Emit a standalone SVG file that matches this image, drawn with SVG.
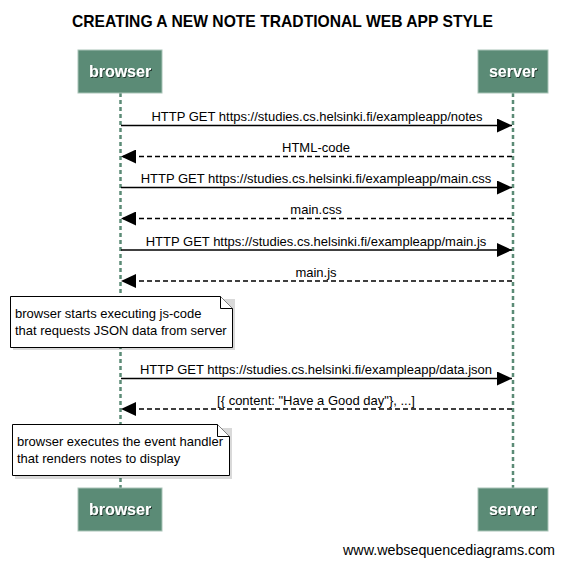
<svg xmlns="http://www.w3.org/2000/svg" width="564" height="565" viewBox="0 0 564 565">
<style>
text{font-family:"Liberation Sans",Arial,sans-serif;fill:#000}
.title{font-size:17px;font-weight:bold}
.msg{font-size:13px;text-anchor:middle}
.note{font-size:13px}
.actor rect{fill:#5b8b76;stroke:#a9c4b7;stroke-width:1}
.actor text{font-size:16px;font-weight:bold;fill:#fff;text-anchor:middle}
.life{stroke:#5b8b76;stroke-width:2.5;stroke-dasharray:4,3}
.req{stroke:#000;stroke-width:1.5;fill:none}
.res{stroke:#000;stroke-width:1.5;fill:none;stroke-dasharray:5,3}
.notebox{fill:#fff;stroke:#000;stroke-width:1}
.shadow{fill:#000;opacity:0.15}
</style>
<defs>
<marker id="ah" viewBox="0 0 15 14" refX="15" refY="7" markerWidth="15" markerHeight="14" markerUnits="userSpaceOnUse" orient="auto">
<path d="M0,0 L15,7 L0,14 Z" fill="#000"/>
</marker>
<filter id="ts" x="-10%" y="-10%" width="130%" height="140%">
<feDropShadow dx="1" dy="1" stdDeviation="0.6" flood-color="#000" flood-opacity="0.6"/>
</filter>
</defs>
<rect width="564" height="565" fill="#fff"/>
<text class="title" x="72" y="27" textLength="421" lengthAdjust="spacingAndGlyphs">CREATING A NEW NOTE TRADTIONAL WEB APP STYLE</text>
<g id="lifelines">
<line class="life" x1="120.5" y1="93" x2="120.5" y2="488"/>
<line class="life" x1="513" y1="93" x2="513" y2="488"/>
</g>
<g id="browser-top" class="actor"><rect x="78" y="50" width="84" height="43"/><text x="120" y="77" filter="url(#ts)">browser</text></g>
<g id="server-top" class="actor"><rect x="478" y="50" width="70" height="43"/><text x="513" y="77" filter="url(#ts)">server</text></g>
<g id="browser-bottom" class="actor"><rect x="78" y="488" width="84" height="43"/><text x="120" y="515" filter="url(#ts)">browser</text></g>
<g id="server-bottom" class="actor"><rect x="478" y="488" width="70" height="43"/><text x="513" y="515" filter="url(#ts)">server</text></g>
<g id="connectors">
<line class="req" x1="121" y1="125.5" x2="512" y2="125.5" marker-end="url(#ah)"/>
<text class="msg" x="317" y="121">HTTP GET https://studies.cs.helsinki.fi/exampleapp/notes</text>
<line class="res" x1="512" y1="156.5" x2="121" y2="156.5" marker-end="url(#ah)"/>
<text class="msg" x="316" y="152">HTML-code</text>
<line class="req" x1="121" y1="187.5" x2="512" y2="187.5" marker-end="url(#ah)"/>
<text class="msg" x="316" y="183">HTTP GET https://studies.cs.helsinki.fi/exampleapp/main.css</text>
<line class="res" x1="512" y1="218.5" x2="121" y2="218.5" marker-end="url(#ah)"/>
<text class="msg" x="316" y="214">main.css</text>
<line class="req" x1="121" y1="250" x2="512" y2="250" marker-end="url(#ah)"/>
<text class="msg" x="316" y="246">HTTP GET https://studies.cs.helsinki.fi/exampleapp/main.js</text>
<line class="res" x1="512" y1="281" x2="121" y2="281" marker-end="url(#ah)"/>
<text class="msg" x="316" y="277">main.js</text>
<line class="req" x1="121" y1="378.5" x2="512" y2="378.5" marker-end="url(#ah)"/>
<text class="msg" x="316" y="374">HTTP GET https://studies.cs.helsinki.fi/exampleapp/data.json</text>
<line class="res" x1="512" y1="409" x2="121" y2="409" marker-end="url(#ah)"/>
<text class="msg" x="316" y="405">[{ content: "Have a Good day"}, ...]</text>
</g>
<g id="note1">
<path class="shadow" d="M13,299 H235 V350 H13 Z"/>
<path class="notebox" d="M10.5,296.5 H220.5 L232.5,308.5 V347.5 H10.5 Z"/>
<path class="notebox" d="M220.5,296.5 V308.5 H232.5" fill="none"/>
<text class="note" x="15" y="318">browser starts executing js-code</text>
<text class="note" x="15" y="335">that requests JSON data from server</text>
</g>
<g id="note2">
<path class="shadow" d="M15,428 H232 V479 H15 Z"/>
<path class="notebox" d="M12.5,424.5 H217.5 L229.5,436.5 V475.5 H12.5 Z"/>
<path class="notebox" d="M217.5,424.5 V436.5 H229.5" fill="none"/>
<text class="note" x="17" y="446">browser executes the event handler</text>
<text class="note" x="17" y="463">that renders notes to display</text>
</g>
<text x="343" y="555" font-size="14" textLength="212" lengthAdjust="spacingAndGlyphs">www.websequencediagrams.com</text>
</svg>
